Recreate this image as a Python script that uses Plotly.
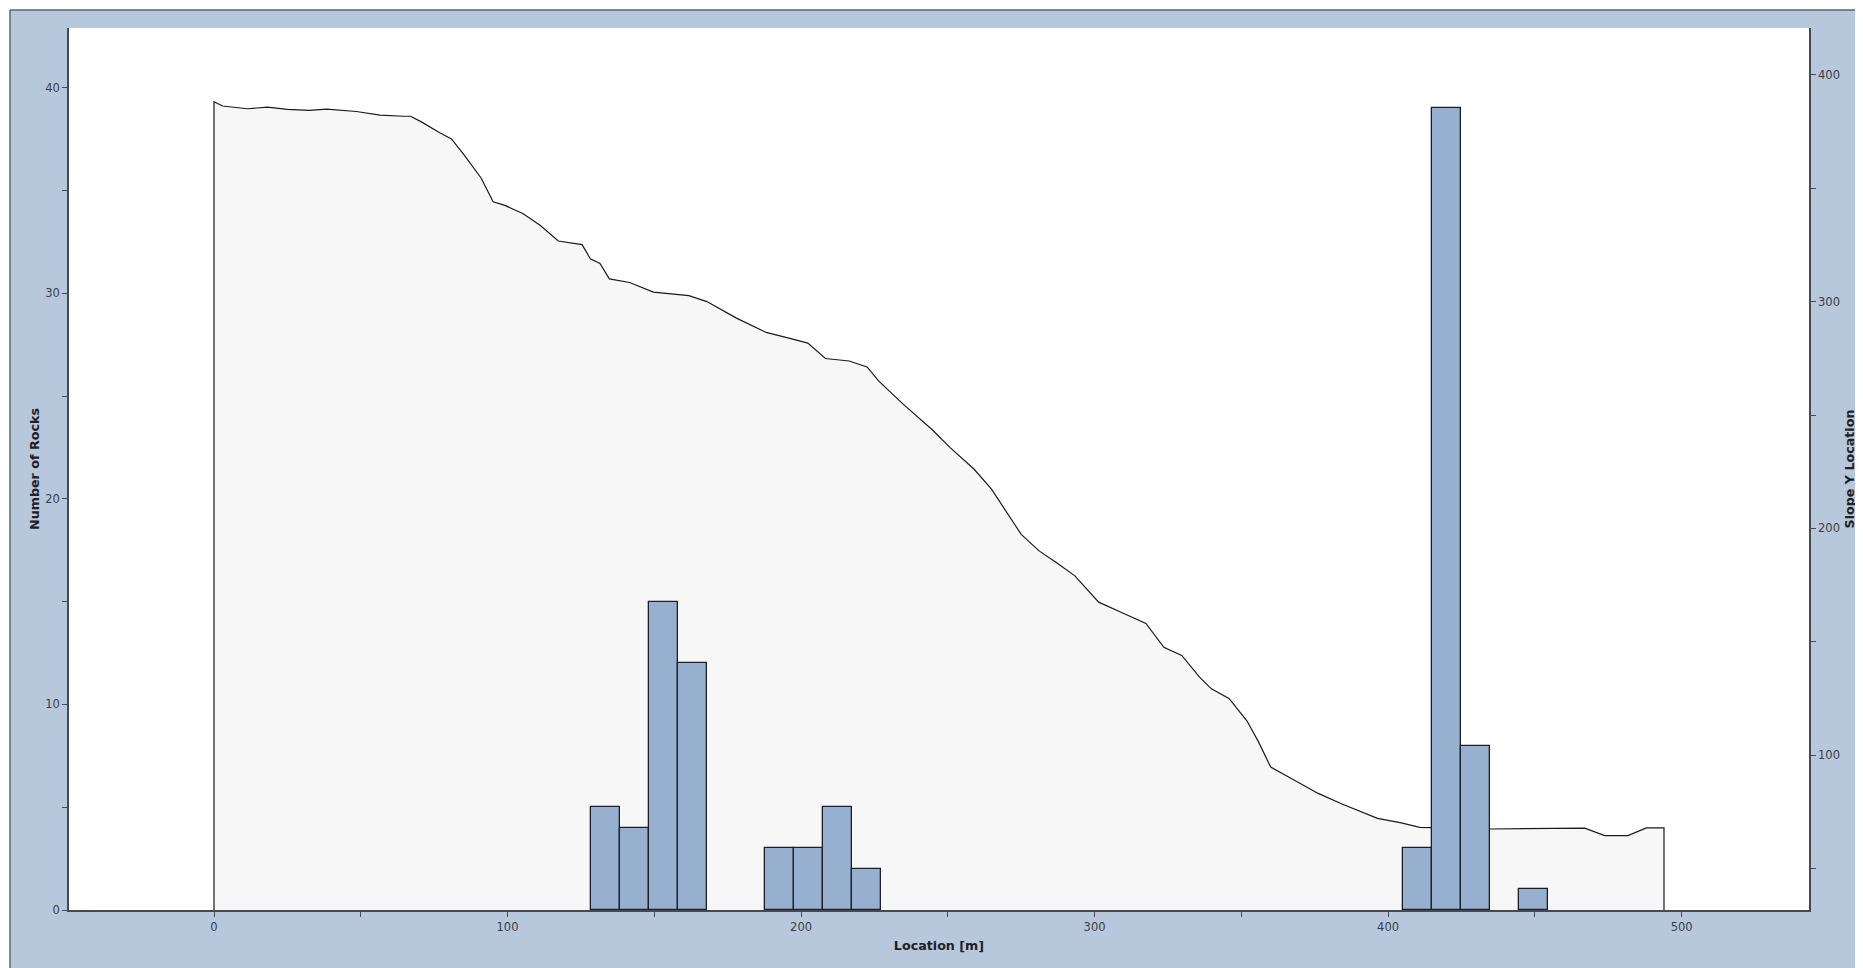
import plotly.graph_objects as go

# ---------------- data ----------------
# slope profile (Location [m] -> Slope Y Location)
profile_x = [0, 2.9, 8, 11.4, 18.2, 25, 32.4, 38.4, 48.5, 56.6, 64.7, 67, 70.8, 76.9, 80.9,
             85, 91, 95.1, 99.1, 105.2, 111.2, 117.3, 125.4, 128.2, 131.5, 134.7, 141.6,
             149.7, 161.8, 167.9, 178, 188.1, 196.2, 202.3, 208.3, 216.4, 222.5, 226.5,
             234.6, 244.7, 250.8, 258.9, 264.9, 271, 275, 281.1, 287.2, 293.3, 301.4,
             309.4, 317.5, 323.6, 329.7, 335.7, 339.8, 345.8, 351.9, 355.9, 360, 368.1,
             376.2, 384.3, 396.4, 404.5, 410.8, 434.7, 443.8, 460.2, 467, 473.8, 481.7,
             488, 494]
profile_y = [388.1, 386.2, 385.3, 385, 385.7, 384.7, 384.3, 384.8, 383.8, 382.2, 381.7, 381.7,
             379.1, 374.4, 371.7, 365, 354.5, 344, 342.4, 338.8, 333.5, 326.7, 325.1, 318.9,
             316.8, 310, 308.4, 304.2, 302.6, 300, 292.7, 286.4, 283.8, 281.7, 274.9, 273.8,
             271.2, 264.9, 255, 243.5, 235.6, 226.2, 217.3, 205.2, 197.4, 190.1, 184.8,
             179.1, 167.5, 162.8, 158.1, 147.6, 144, 134.6, 129.3, 125.1, 115.2, 105.8,
             94.8, 89, 83.2, 78.5, 72.2, 70.2, 68.2, 67.5, 67.7, 67.9, 67.9, 64.6, 64.6,
             68, 68]

# rock count histogram (bin left edge [m], count)
bin_width = 9.88
bin_left = [128.44, 138.32, 148.2, 158.08, 187.72, 197.6, 207.48, 217.36,
            405.08, 414.96, 424.84, 444.6]
rock_counts = [5, 4, 15, 12, 3, 3, 5, 2, 3, 39, 8, 1]

x_title = "Location [m]"
y_left_title = "Number of Rocks"
y_right_title = "Slope Y Location"

x_range = [-49.4, 543.4]
count_range = [0, 42.9]
slope_range = [31.8, 420.6]

# ---------------- style ----------------
BLUE_BG = "#b7c8dc"
AXIS = "#454a52"
TICKFONT = dict(family="DejaVu Sans", size=11.5, color="#3a3f47")
TITLEFONT = dict(family="DejaVu Sans", size=12.7, color="#1e2024", weight="bold")

FIG_W, FIG_H = 1855, 960
ML, MR, MT, MB = 61, 54, 20, 58

fig = go.Figure()

base = slope_range[0]
poly_x = [profile_x[0]] + profile_x + [profile_x[-1]]
poly_y = [base] + profile_y + [base]
fig.add_trace(go.Scatter(
    x=poly_x, y=poly_y, yaxis="y", mode="lines", fill="toself",
    fillcolor="#f7f7f7", line=dict(color="#1a1a1a", width=1.2),
    hoverinfo="skip", showlegend=False))

fig.add_trace(go.Bar(
    x=bin_left, y=rock_counts, width=bin_width, offset=0, yaxis="y2",
    marker=dict(color="#98b0cf", line=dict(color="#1c1f28", width=1.3)),
    showlegend=False))

common_axis = dict(showgrid=False, zeroline=False, showline=True, linecolor=AXIS,
                   linewidth=1.5, ticks="outside", ticklen=5, tickcolor=AXIS,
                   tickwidth=1, tickfont=TICKFONT)

fig.update_layout(
    width=FIG_W, height=FIG_H,
    margin=dict(l=ML, r=MR, t=MT, b=MB, autoexpand=False),
    paper_bgcolor=BLUE_BG, plot_bgcolor="white",
    showlegend=False,
    bargap=0,
    xaxis=dict(range=x_range, dtick=100, tick0=0,
               minor=dict(dtick=50, ticks="outside", ticklen=5, tickcolor=AXIS),
               title=dict(text=x_title, font=TITLEFONT, standoff=9),
               **common_axis),
    yaxis=dict(range=slope_range, side="right", dtick=100, tick0=0,
               minor=dict(dtick=50, ticks="outside", ticklen=5, tickcolor=AXIS),
               title=dict(text=y_right_title, font=TITLEFONT, standoff=6),
               **common_axis),
    yaxis2=dict(range=count_range, side="left", overlaying="y", dtick=10, tick0=0,
                minor=dict(dtick=5, ticks="outside", ticklen=5, tickcolor=AXIS),
                title=dict(text=y_left_title, font=TITLEFONT, standoff=3),
                **common_axis),
)

# white outer strips and dark frame line (top / left of the blue panel)
pw, ph = FIG_W - ML - MR, FIG_H - MT - MB
def px_x(p):
    return (p - ML) / pw
def px_y(p):
    return (FIG_H - MB - p) / ph

fig.add_shape(type="rect", xref="paper", yref="paper",
              x0=px_x(-10), x1=px_x(FIG_W + 10), y0=px_y(2), y1=px_y(-10),
              fillcolor="white", line=dict(width=0), layer="below")
fig.add_shape(type="rect", xref="paper", yref="paper",
              x0=px_x(-10), x1=px_x(2), y0=px_y(FIG_H + 10), y1=px_y(-10),
              fillcolor="white", line=dict(width=0), layer="below")
fig.add_shape(type="line", xref="paper", yref="paper",
              x0=px_x(2), x1=px_x(FIG_W + 10), y0=px_y(2), y1=px_y(2),
              line=dict(color="#5b6670", width=1.5))
fig.add_shape(type="line", xref="paper", yref="paper",
              x0=px_x(2), x1=px_x(2), y0=px_y(2), y1=px_y(FIG_H + 10),
              line=dict(color="#5b6670", width=1.5))

fig.write_html("out.html")
